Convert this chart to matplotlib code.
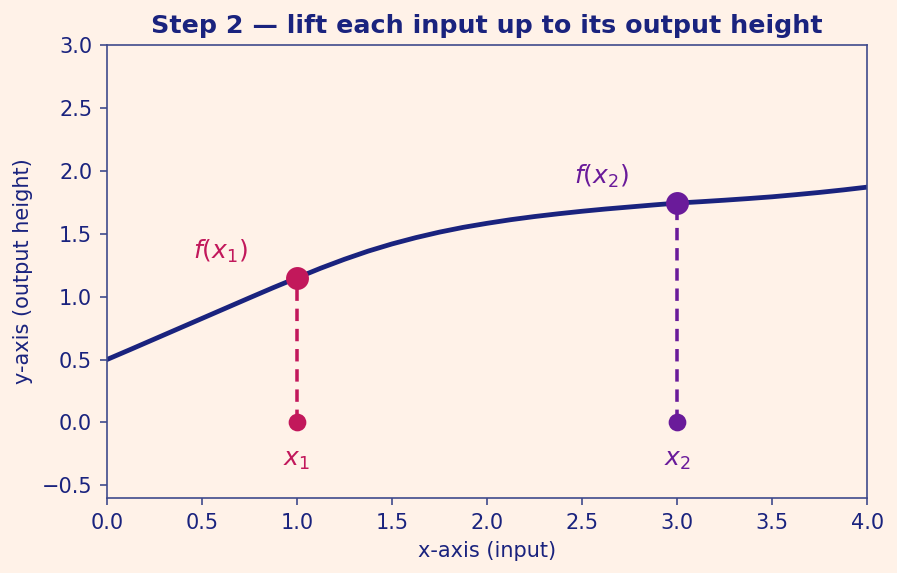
import numpy as np
import matplotlib
matplotlib.use('Agg')
import matplotlib.pyplot as plt

# curve readings (x, output height), every 0.125
curve_x = [0.0, 0.125, 0.25, 0.375, 0.5, 0.625, 0.75, 0.875,
           1.0, 1.125, 1.25, 1.375, 1.5, 1.625, 1.75, 1.875,
           2.0, 2.125, 2.25, 2.375, 2.5, 2.625, 2.75, 2.875,
           3.0, 3.125, 3.25, 3.375, 3.5, 3.625, 3.75, 3.875, 4.0]
curve_y = [0.500, 0.581, 0.663, 0.745, 0.827, 0.909, 0.991, 1.072,
           1.150, 1.227, 1.298, 1.363, 1.420, 1.470, 1.514, 1.552,
           1.584, 1.613, 1.638, 1.660, 1.680, 1.698, 1.714, 1.730,
           1.745, 1.756, 1.768, 1.781, 1.795, 1.812, 1.830, 1.850, 1.872]

# the two inputs and their outputs
inputs = [1.0, 3.0]
outputs = [1.150, 1.745]
input_labels = [r'$x_1$', r'$x_2$']
output_labels = [r'$f(x_1)$', r'$f(x_2)$']

navy = '#1a237e'
bg = '#fff2e8'
colors = ['#c2185b', '#6a1b9a']

fig = plt.figure(figsize=(5.98, 3.82), dpi=150, facecolor=bg)
ax = fig.add_axes([0.119, 0.131, 0.848, 0.790])
ax.set_facecolor(bg)

ax.plot(curve_x, curve_y, color=navy, lw=2.3, zorder=2)

for xi, yi, c, il, ol in zip(inputs, outputs, colors, input_labels, output_labels):
    # dashed lift from input to output
    ax.plot([xi, xi], [0, yi], color=c, lw=1.7, ls=(0, (3.5, 2.2)), zorder=1)
    ax.plot(xi, 0, 'o', color=c, ms=7.5, zorder=3)
    ax.plot(xi, yi, 'o', color=c, ms=10, zorder=3)
    ax.text(xi, -0.30, il, color=c, fontsize=12, ha='center', va='center')
    ax.text(xi - 0.4, yi + 0.21, ol, color=c, fontsize=12, ha='center', va='center')

ax.set_xlim(0, 4)
ax.set_ylim(-0.6, 3.0)
ax.set_xticks(np.arange(0, 4.01, 0.5))
ax.set_yticks(np.arange(-0.5, 3.01, 0.5))

ax.set_title('Step 2 — lift each input up to its output height',
             color=navy, fontsize=12.2, fontweight='bold', pad=6)
ax.set_xlabel('x-axis (input)', color=navy, fontsize=10)
ax.set_ylabel('y-axis (output height)', color=navy, fontsize=10)

for s in ax.spines.values():
    s.set_color('#3f4a8c')
ax.tick_params(colors='#3f4a8c', labelcolor=navy, labelsize=10)

fig.savefig('out.png', dpi=150, facecolor=bg)
